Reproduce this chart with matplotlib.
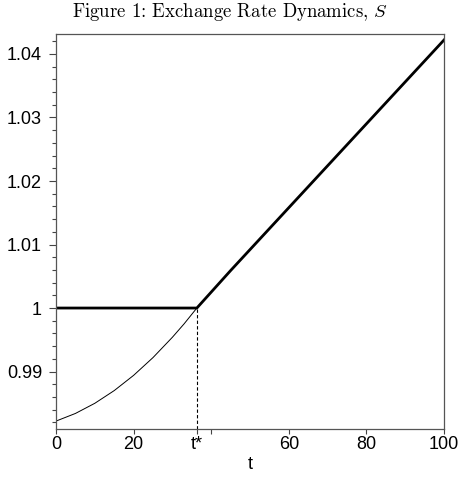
import matplotlib
matplotlib.use("Agg")
import matplotlib.pyplot as plt

# values
t_star = 36.3

# shadow rate before the collapse (thin curve)
t_shadow = [0, 5, 10, 15, 20, 25, 30, 33, 36.3]
s_shadow = [0.9822, 0.9834, 0.9850, 0.9870, 0.9894, 0.9922, 0.9954, 0.9975, 1.0]

# actual rate: fixed at 1 until t*, then floats
t_after = [36.3, 45, 55, 65, 75, 85, 100]
s_after = [1.0, 1.0059, 1.0125, 1.0191, 1.0257, 1.0323, 1.0422]
t_actual = [0] + t_after
s_actual = [1.0] + s_after

xticks = [0, 20, t_star, 40, 60, 80, 100]
xtick_labels = ["0", "20", "t*", "", "60", "80", "100"]
yticks = [0.99, 1.0, 1.01, 1.02, 1.03, 1.04]
ytick_labels = ["0.99", "1", "1.01", "1.02", "1.03", "1.04"]

plt.rcParams["font.family"] = ["Liberation Sans", "DejaVu Sans"]
plt.rcParams["mathtext.fontset"] = "cm"

fig = plt.figure(figsize=(4.61, 4.79), dpi=100)
ax = fig.add_axes([0.1215, 0.105, 0.8416, 0.8234])

ax.plot(t_shadow, s_shadow, color="black", lw=0.7)
ax.plot(t_actual, s_actual, color="black", lw=2.0, solid_joinstyle="round")
ax.plot([t_star, t_star], [0.981, 1.0], color="black", lw=0.8, ls=(0, (3, 2)))

ax.set_xlim(0, 100)
ax.set_ylim(0.981, 1.0431)
ax.set_xticks(xticks)
ax.set_xticklabels(xtick_labels)
ax.set_yticks(yticks)
ax.set_yticklabels(ytick_labels)
ax.set_yticks([v / 1000 for v in range(982, 1043, 2)], minor=True)

ax.tick_params(axis="y", which="major", length=5, width=0.8, color="#444444", labelsize=13, pad=5)
ax.tick_params(axis="y", which="minor", length=3, width=0.8, color="#444444")
ax.tick_params(axis="x", which="major", length=3.6, width=0.8, color="#444444", labelsize=13, pad=2)
for sp in ax.spines.values():
    sp.set_color("#555555")
    sp.set_linewidth(0.9)

ax.set_xlabel("t", fontsize=13, labelpad=2)
fig.text(0.5, 0.975, r"Figure 1: Exchange Rate Dynamics, $S$", ha="center", va="center",
         fontsize=13.5, family="cmr10")

fig.savefig("out.png", dpi=100)
